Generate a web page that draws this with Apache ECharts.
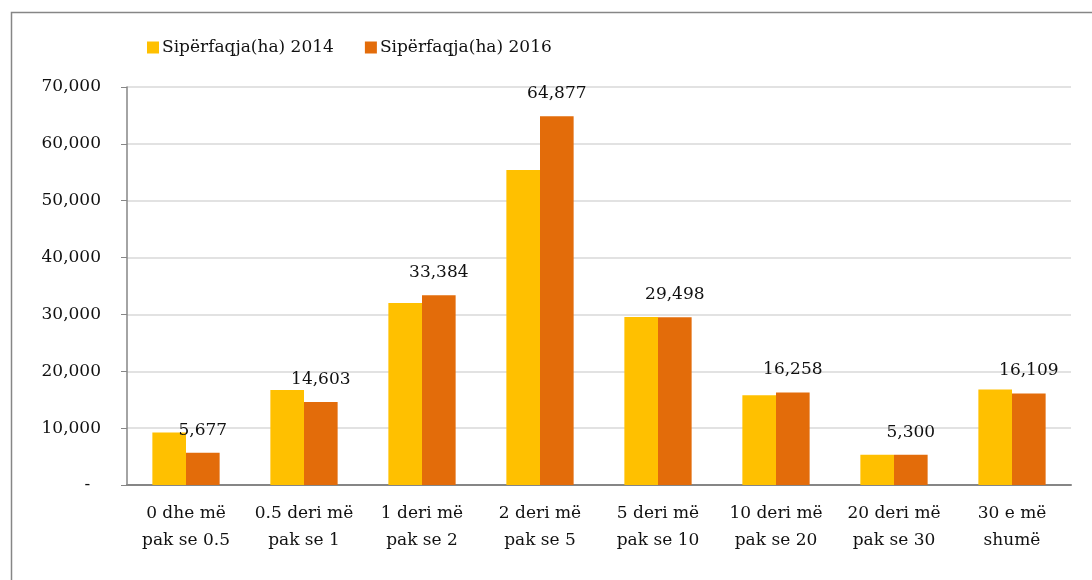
<!DOCTYPE html>
<html>
<head>
<meta charset="utf-8">
<script src="https://cdn.jsdelivr.net/npm/echarts@6/dist/echarts.min.js"></script>
<style>
  html, body { margin: 0; padding: 0; background: #fff; }
  #chart { width: 1092px; height: 580px; }
</style>
</head>
<body>
<div id="chart"></div>
<script>
const categories = [
    "0 dhe më\npak se 0.5",
    "0.5 deri më\npak se 1",
    "1 deri më\npak se 2",
    "2 deri më\npak se 5",
    "5 deri më\npak se 10",
    "10 deri më\npak se 20",
    "20 deri më\npak se 30",
    "30 e më\nshumë"
];
const seriesNames = ["Sipërfaqja(ha) 2014", "Sipërfaqja(ha) 2016"];
// 2014 lexuar nga grafiku (vlerat pa etiketë)
const area2014 = [9250, 16700, 32000, 55400, 29550, 15800, 5300, 16800];
const area2016 = [5677, 14603, 33384, 64877, 29498, 16258, 5300, 16109];

const fontFamily = "'DejaVu Serif', serif";

function fmt(v) {
    if (v === 0) return "-  ";
    return v.toLocaleString("en-US");
}

let option = {
    animation: false,
    color: ["#FFC000", "#E36C0A"],
    textStyle: { fontFamily: fontFamily, color: "#111" },
    graphic: [{
        type: "rect",
        shape: { x: 11.5, y: 12.5, width: 1200, height: 700 },
        style: { fill: "none", stroke: "#868686", lineWidth: 1.5 },
        silent: true
    }],
    legend: {
        data: seriesNames,
        left: 147,
        top: 39,
        padding: 0,
        icon: "rect",
        itemWidth: 12,
        itemHeight: 12,
        itemGap: 31,
        textStyle: { fontFamily: fontFamily, fontSize: 17, color: "#111", padding: [0, 0, 0, -2] }
    },
    grid: {
        left: 127,
        right: 21,
        top: 87,
        bottom: 95
    },
    xAxis: {
        type: "category",
        data: categories,
        axisTick: { show: false },
        axisLine: { lineStyle: { color: "#868686", width: 2 } },
        axisLabel: {
            color: "#111",
            fontFamily: fontFamily,
            fontSize: 17,
            lineHeight: 27,
            margin: 15,
            interval: 0
        }
    },
    yAxis: {
        type: "value",
        min: 0,
        max: 70000,
        interval: 10000,
        axisLine: { show: true, lineStyle: { color: "#868686", width: 1.5 } },
        axisTick: { show: true, length: 6, lineStyle: { color: "#868686" } },
        axisLabel: {
            color: "#111",
            fontFamily: fontFamily,
            fontSize: 17,
            margin: 26,
            formatter: fmt
        },
        splitLine: { lineStyle: { color: "#d9d9d9", width: 1.5 } }
    },
    series: [
        {
            name: seriesNames[0],
            type: "bar",
            data: area2014,
            barGap: "0%",
            barCategoryGap: "43%"
        },
        {
            name: seriesNames[1],
            type: "bar",
            data: area2016,
            label: {
                show: true,
                position: "top",
                distance: 14,
                color: "#111",
                fontFamily: fontFamily,
                fontSize: 17,
                formatter: function (p) { return fmt(p.value); }
            }
        }
    ]
};

let chart = echarts.init(document.getElementById("chart"));
chart.setOption(option);
</script>
</body>
</html>
